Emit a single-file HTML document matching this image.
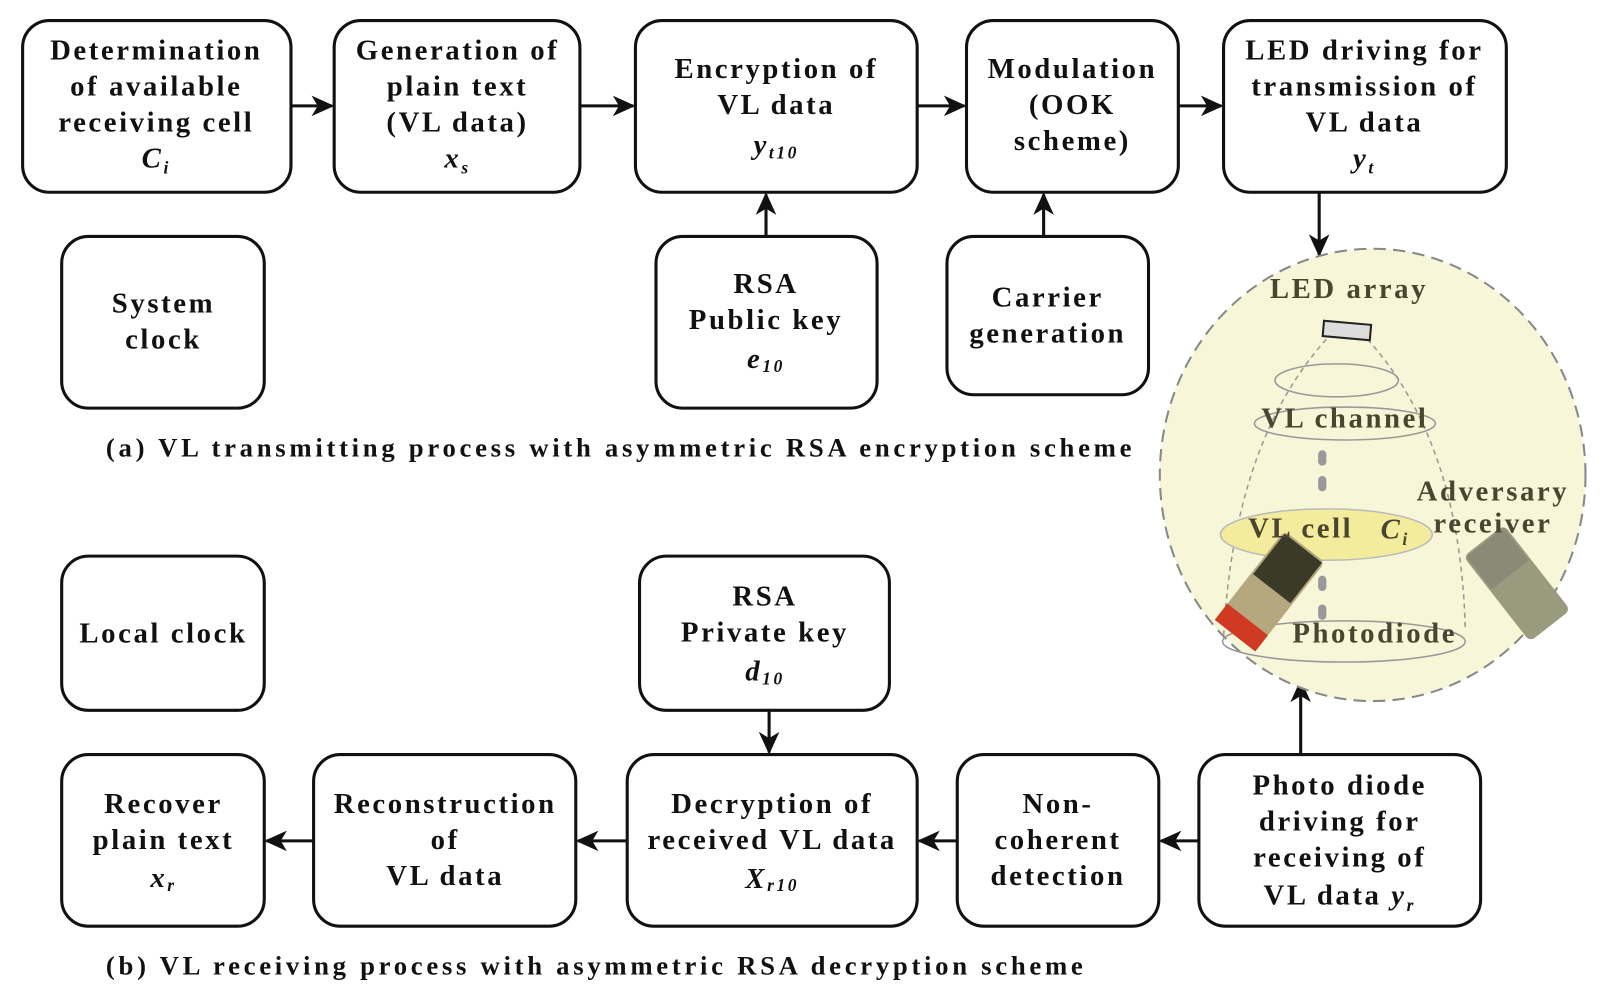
<!DOCTYPE html>
<html><head><meta charset="utf-8"><style>
html,body{margin:0;padding:0;background:#fff;}
svg{display:block;}
text{font-family:"Liberation Serif",serif;font-weight:bold;font-size:28px;fill:#111;text-anchor:middle;letter-spacing:2.5px;}
.i{font-style:italic;}
.cap{text-anchor:start;font-size:26px;letter-spacing:3.6px;}
.g{fill:#4a4530;}
</style></head><body>
<svg width="1604" height="992" viewBox="0 0 1560 965" preserveAspectRatio="none" xmlns="http://www.w3.org/2000/svg">
<defs><marker id="b" markerWidth="22" markerHeight="20" refX="20" refY="10" orient="auto" markerUnits="userSpaceOnUse"><path d="M0,0 L22,10 L0,20 L6,10 z" fill="#111"/></marker></defs>
<g fill="none" stroke="#111" stroke-width="3">
<rect x="22" y="20" width="261" height="167" rx="26"/>
<rect x="325" y="20" width="239" height="167" rx="26"/>
<rect x="618" y="20" width="274" height="167" rx="26"/>
<rect x="940" y="20" width="206" height="167" rx="26"/>
<rect x="1190" y="20" width="275" height="167" rx="26"/>
<rect x="60" y="230" width="197" height="167" rx="26"/>
<rect x="638" y="230" width="215" height="167" rx="26"/>
<rect x="921" y="230" width="196" height="154" rx="26"/>
<rect x="60" y="541" width="197" height="150" rx="26"/>
<rect x="622" y="541" width="243" height="150" rx="26"/>
<rect x="60" y="734" width="197" height="167" rx="26"/>
<rect x="305" y="734" width="255" height="167" rx="26"/>
<rect x="610" y="734" width="282" height="167" rx="26"/>
<rect x="931" y="734" width="196" height="167" rx="26"/>
<rect x="1166" y="734" width="274" height="167" rx="26"/>
</g>
<g stroke="#111" stroke-width="3" marker-end="url(#b)">
<line x1="283" y1="103" x2="323" y2="103"/>
<line x1="564" y1="103" x2="616" y2="103"/>
<line x1="892" y1="103" x2="938" y2="103"/>
<line x1="1146" y1="103" x2="1188" y2="103"/>
<line x1="745" y1="230" x2="745" y2="189"/>
<line x1="1015" y1="230" x2="1015" y2="189"/>
<line x1="1283" y1="187" x2="1283" y2="248"/>
<line x1="748" y1="691" x2="748" y2="732"/>
<line x1="1166" y1="818" x2="1129" y2="818"/>
<line x1="931" y1="818" x2="894" y2="818"/>
<line x1="610" y1="818" x2="562" y2="818"/>
<line x1="305" y1="818" x2="259" y2="818"/>
<line x1="1265" y1="734" x2="1265" y2="663"/>
</g>
<ellipse cx="1335" cy="462" rx="207" ry="220" fill="#f8f6d8" stroke="#888" stroke-width="2" stroke-dasharray="12,7"/>
<g fill="none" stroke="#999" stroke-width="1.5">
<path d="M1290,330 Q1200,430 1190,620" stroke-dasharray="5,4"/>
<path d="M1330,330 Q1420,430 1425,610" stroke-dasharray="5,4"/>
<ellipse cx="1300" cy="370" rx="60" ry="16"/>
<ellipse cx="1308" cy="412" rx="88" ry="16"/>
<ellipse cx="1307" cy="624" rx="118" ry="20"/>
</g>
<ellipse cx="1290" cy="520" rx="103" ry="25" fill="#f2ec9c" stroke="#bbb" stroke-width="1.5"/>
<rect x="1287" y="314" width="46" height="15" fill="#ddd" stroke="#222" stroke-width="2" transform="rotate(5 1310 321)"/>
<g fill="#999"><rect x="1282" y="438" width="8" height="15" rx="4"/><rect x="1282" y="463" width="8" height="15" rx="4"/><rect x="1282" y="560" width="8" height="15" rx="4"/><rect x="1282" y="588" width="8" height="15" rx="4"/></g>
<g transform="rotate(38 1235 575)"><rect x="1210" y="520" width="50" height="110" rx="6" fill="#b5a77e"/><rect x="1212" y="522" width="46" height="50" fill="#3a3a28"/><rect x="1210" y="610" width="50" height="20" fill="#d03a22"/></g>
<g transform="rotate(-38 1475 567)"><rect x="1450" y="515" width="50" height="105" rx="6" fill="#9a9a7e"/><rect x="1452" y="517" width="46" height="40" fill="#8a8a76"/></g>
<text class="g" x="1312" y="290">LED array</text>
<text class="g" x="1308" y="416">VL channel</text>
<text class="g" x="1265" y="523">VL cell</text>
<text class="g i" x="1357" y="524">C<tspan font-size="17" dy="6">i</tspan></text>
<text class="g" x="1452" y="487" font-size="24">Adversary</text>
<text class="g" x="1452" y="518" font-size="24">receiver</text>
<text class="g" x="1337" y="625">Photodiode</text>
<text x="152" y="58">Determination</text><text x="152" y="93">of available</text><text x="152" y="128">receiving cell</text><text class="i" x="152" y="163">C<tspan font-size="17" dy="6">i</tspan></text>
<text x="445" y="58">Generation of</text><text x="445" y="93">plain text</text><text x="445" y="128">(VL data)</text><text class="i" x="445" y="163">x<tspan font-size="17" dy="6">s</tspan></text>
<text x="755" y="76">Encryption of</text><text x="755" y="111">VL data</text><text class="i" x="755" y="150">y<tspan font-size="17" dy="4">t10</tspan></text>
<text x="1043" y="76">Modulation</text><text x="1043" y="111">(OOK</text><text x="1043" y="146">scheme)</text>
<text x="1327" y="58">LED driving for</text><text x="1327" y="93">transmission of</text><text x="1327" y="128">VL data</text><text class="i" x="1327" y="163">y<tspan font-size="17" dy="6">t</tspan></text>
<text x="159" y="304">System</text><text x="159" y="339">clock</text>
<text x="745" y="285">RSA</text><text x="745" y="320">Public key</text><text class="i" x="745" y="358">e<tspan font-size="17" dy="4">10</tspan></text>
<text x="1019" y="298">Carrier</text><text x="1019" y="333">generation</text>
<text class="cap" x="103" y="444">(a) VL transmitting process with asymmetric RSA encryption scheme</text>
<text x="159" y="625">Local clock</text>
<text x="744" y="589">RSA</text><text x="744" y="624">Private key</text><text class="i" x="744" y="662">d<tspan font-size="17" dy="4">10</tspan></text>
<text x="159" y="791">Recover</text><text x="159" y="826">plain text</text><text class="i" x="159" y="863">x<tspan font-size="17" dy="4">r</tspan></text>
<text x="433" y="791">Reconstruction</text><text x="433" y="826">of</text><text x="433" y="861">VL data</text>
<text x="751" y="791">Decryption of</text><text x="751" y="826">received VL data</text><text class="i" x="751" y="864" font-size="22">X<tspan font-size="17" dy="3">r10</tspan></text>
<text x="1029" y="791">Non-</text><text x="1029" y="826">coherent</text><text x="1029" y="861">detection</text>
<text x="1303" y="773">Photo diode</text><text x="1303" y="808">driving for</text><text x="1303" y="843">receiving of</text><text x="1303" y="880">VL data <tspan class="i">y</tspan><tspan class="i" font-size="17" dy="6">r</tspan></text>
<text class="cap" x="103" y="948">(b) VL receiving process with asymmetric RSA decryption scheme</text>
</svg>
</body></html>
